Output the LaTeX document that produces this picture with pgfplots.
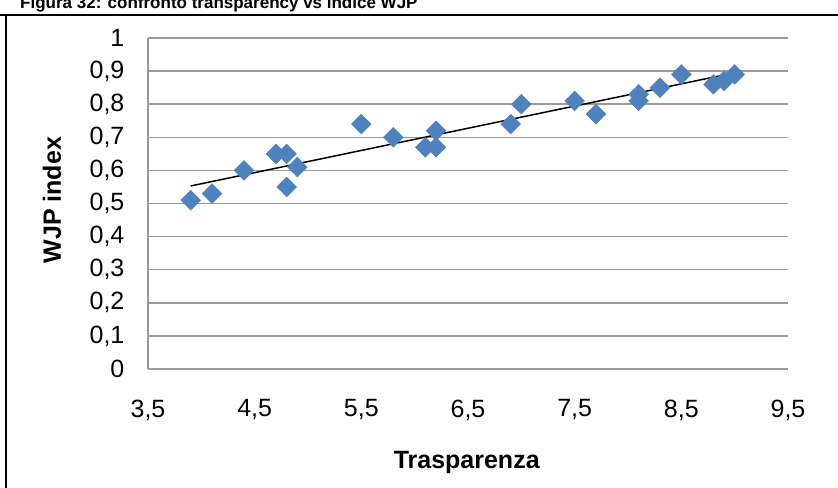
\documentclass[border=0pt]{standalone}
\usepackage{pgfplots}
\pgfplotsset{compat=1.18}
\usepackage{fontspec}
\setmainfont{Liberation Sans}
\definecolor{excelblue}{HTML}{4F81BD}
\definecolor{gridgray}{HTML}{9A9A9A}
\begin{document}
\begin{tikzpicture}
\useasboundingbox (0,0) rectangle (838bp,-488bp);
\draw[line width=2bp] (0,-15bp) -- (838bp,-15bp);
\draw[line width=2bp] (6bp,-15bp) -- (6bp,-488bp);
\node[anchor=base west, font=\fontsize{17bp}{19bp}\selectfont\bfseries, inner sep=0pt] at (20bp,-8.5bp) {Figura 32: confronto transparency vs indice WJP};
\begin{axis}[
  at={(148bp,-369bp)}, anchor=origin,
  scale only axis, width=640bp, height=331bp,
  xmin=3.5, xmax=9.5, ymin=0, ymax=1,
  xtick={3.5,4.5,...,9.5},
  ytick={0,0.1,...,1},
  axis x line=bottom, axis y line=left,
  axis line style={gridgray, line width=1.5bp, -},
  ymajorgrids, major grid style={gridgray, line width=1.5bp},
  tick style={draw=none},
  /pgf/number format/assume math mode=true,
  /pgf/number format/use comma,
  /pgf/number format/fixed,
  /pgf/number format/precision=1,
  ticklabel style={font=\fontsize{25bp}{28bp}\selectfont},
  yticklabel style={xshift=-18bp},
  xticklabel style={yshift=-25bp},
  xlabel={Trasparenza}, ylabel={WJP index},
  label style={font=\fontsize{25bp}{28bp}\selectfont\bfseries},
  xlabel style={at={(axis description cs:0.498,-0.281)}, anchor=center},
  ylabel style={at={(axis description cs:-0.15,0.51)}, anchor=center},
  clip=false,
]
\addplot[only marks, mark=square*, mark size=7bp, mark options={rotate=45, fill=excelblue, draw=excelblue}] coordinates {
(3.9,0.51) (4.1,0.53) (4.4,0.60) (4.7,0.65) (4.8,0.65) (4.8,0.55) (4.9,0.61)
(5.5,0.74) (5.8,0.70) (6.1,0.67) (6.2,0.72) (6.2,0.67) (6.9,0.74) (7.0,0.80)
(7.5,0.81) (7.7,0.77) (8.1,0.83) (8.1,0.81) (8.3,0.85) (8.5,0.89) (8.8,0.86)
(8.9,0.87) (9.0,0.89)
};
\addplot[black, line width=1.5bp] coordinates {(3.9,0.553) (9.0,0.895)};
\end{axis}
\end{tikzpicture}
\end{document}
